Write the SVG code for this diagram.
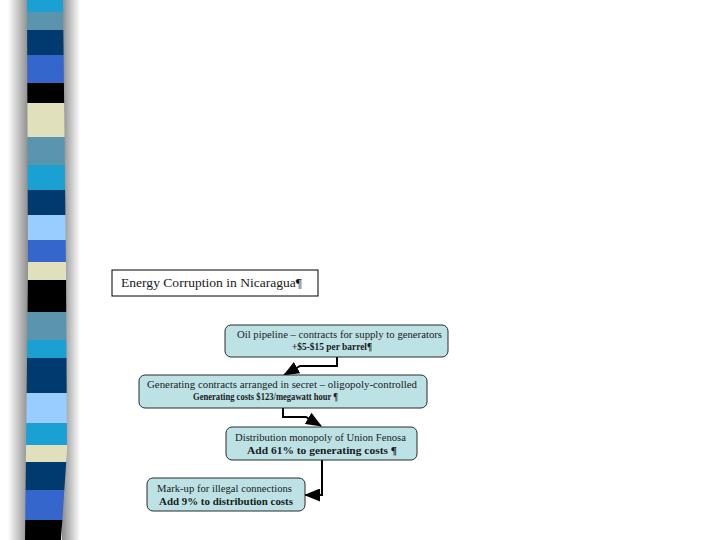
<svg xmlns="http://www.w3.org/2000/svg" width="720" height="540" viewBox="0 0 720 540">
  <style>
    .box { fill: #bde2e5; stroke: #2a2a2a; stroke-width: 1; }
    .t { font-family: "Liberation Serif", "Times New Roman", serif; font-size: 10.5px; fill: #1a1a1a; }
    .b { font-weight: bold; }
    .conn { fill: none; stroke: #000; stroke-width: 2; }
  </style>
  <defs>
    <marker id="arrow" markerUnits="userSpaceOnUse" markerWidth="16" markerHeight="13" refX="15" refY="6.5" orient="auto">
      <path d="M0,0 L16,6.5 L0,13 z" fill="#000"/>
    </marker>
    <linearGradient id="shL" x1="0" y1="0" x2="1" y2="0">
      <stop offset="0" stop-color="#ffffff"/>
      <stop offset="1" stop-color="#888888"/>
    </linearGradient>
    <linearGradient id="shR" x1="0" y1="0" x2="1" y2="0">
      <stop offset="0" stop-color="#8c8c8c"/>
      <stop offset="1" stop-color="#ffffff"/>
    </linearGradient>
    <clipPath id="stripClip">
      <polygon points="27,0 63,0 66,270 67,450 61,540 25,540 28,270"/>
    </clipPath>
  </defs>
  <rect width="720" height="540" fill="#ffffff"/>

  <g id="side-strip">
    <rect x="8" y="0" width="21" height="540" fill="url(#shL)"/>
    <rect x="62" y="0" width="18" height="540" fill="url(#shR)"/>
    <g clip-path="url(#stripClip)">
      <rect x="20" y="0" width="52" height="12" fill="#1ba0d4"/>
      <rect x="20" y="12" width="52" height="18" fill="#5b95ad"/>
      <rect x="20" y="30" width="52" height="25" fill="#003a6e"/>
      <rect x="20" y="55" width="52" height="28" fill="#3466cc"/>
      <rect x="20" y="83" width="52" height="20" fill="#000000"/>
      <rect x="20" y="103" width="52" height="34" fill="#e0e0bc"/>
      <rect x="20" y="137" width="52" height="28" fill="#5b95ad"/>
      <rect x="20" y="165" width="52" height="25" fill="#1ba0d4"/>
      <rect x="20" y="190" width="52" height="25" fill="#003a6e"/>
      <rect x="20" y="215" width="52" height="25" fill="#99ccff"/>
      <rect x="20" y="240" width="52" height="22" fill="#3466cc"/>
      <rect x="20" y="262" width="52" height="18" fill="#e0e0bc"/>
      <rect x="20" y="280" width="52" height="32" fill="#000000"/>
      <rect x="20" y="312" width="52" height="28" fill="#5b95ad"/>
      <rect x="20" y="340" width="52" height="18" fill="#1ba0d4"/>
      <rect x="20" y="358" width="52" height="35" fill="#003a6e"/>
      <rect x="20" y="393" width="52" height="30" fill="#99ccff"/>
      <rect x="20" y="423" width="52" height="22" fill="#1ba0d4"/>
      <rect x="20" y="445" width="52" height="17" fill="#e0e0bc"/>
      <rect x="20" y="462" width="52" height="28" fill="#003a6e"/>
      <rect x="20" y="490" width="52" height="30" fill="#3466cc"/>
      <rect x="20" y="520" width="52" height="20" fill="#000000"/>
    </g>
  </g>

  <g id="title">
    <rect x="112" y="270" width="206" height="26" fill="#ffffff" stroke="#000" stroke-width="1"/>
    <text class="t" x="121" y="287" style="font-size:13.5px" textLength="181" lengthAdjust="spacingAndGlyphs">Energy Corruption in Nicaragua¶</text>
  </g>

  <g id="connectors">
    <path class="conn" d="M337,357 V366 H300 L284,375" marker-end="url(#arrow)"/>
    <path class="conn" d="M283,408 V417 H306 L321,426" marker-end="url(#arrow)"/>
    <path class="conn" d="M322,460 V495 H305" marker-end="url(#arrow)"/>
  </g>

  <g id="node-oil-pipeline">
    <rect class="box" x="225" y="325" width="223" height="32" rx="6"/>
    <text class="t" x="237" y="338" textLength="205" lengthAdjust="spacingAndGlyphs">Oil pipeline – contracts for supply to generators</text>
    <text class="t b" x="292" y="350" style="font-size:9.5px" textLength="80" lengthAdjust="spacingAndGlyphs">+$5-$15 per barrel¶</text>
  </g>

  <g id="node-generating">
    <rect class="box" x="139" y="375" width="288" height="33" rx="6"/>
    <text class="t" x="147" y="388" textLength="270" lengthAdjust="spacingAndGlyphs">Generating contracts arranged in secret – oligopoly-controlled</text>
    <text class="t b" x="193" y="400" style="font-size:9.5px" textLength="145" lengthAdjust="spacingAndGlyphs">Generating costs $123/megawatt hour ¶</text>
  </g>

  <g id="node-distribution">
    <rect class="box" x="226" y="427" width="191" height="33" rx="6"/>
    <text class="t" x="235" y="441" textLength="171" lengthAdjust="spacingAndGlyphs">Distribution monopoly of Union Fenosa</text>
    <text class="t b" x="247" y="454" textLength="150" lengthAdjust="spacingAndGlyphs">Add 61% to generating costs ¶</text>
  </g>

  <g id="node-markup">
    <rect class="box" x="147" y="478" width="158" height="33" rx="6"/>
    <text class="t" x="157" y="492" textLength="135" lengthAdjust="spacingAndGlyphs">Mark-up for illegal connections</text>
    <text class="t b" x="159" y="505" textLength="134" lengthAdjust="spacingAndGlyphs">Add 9% to distribution costs</text>
  </g>
</svg>
